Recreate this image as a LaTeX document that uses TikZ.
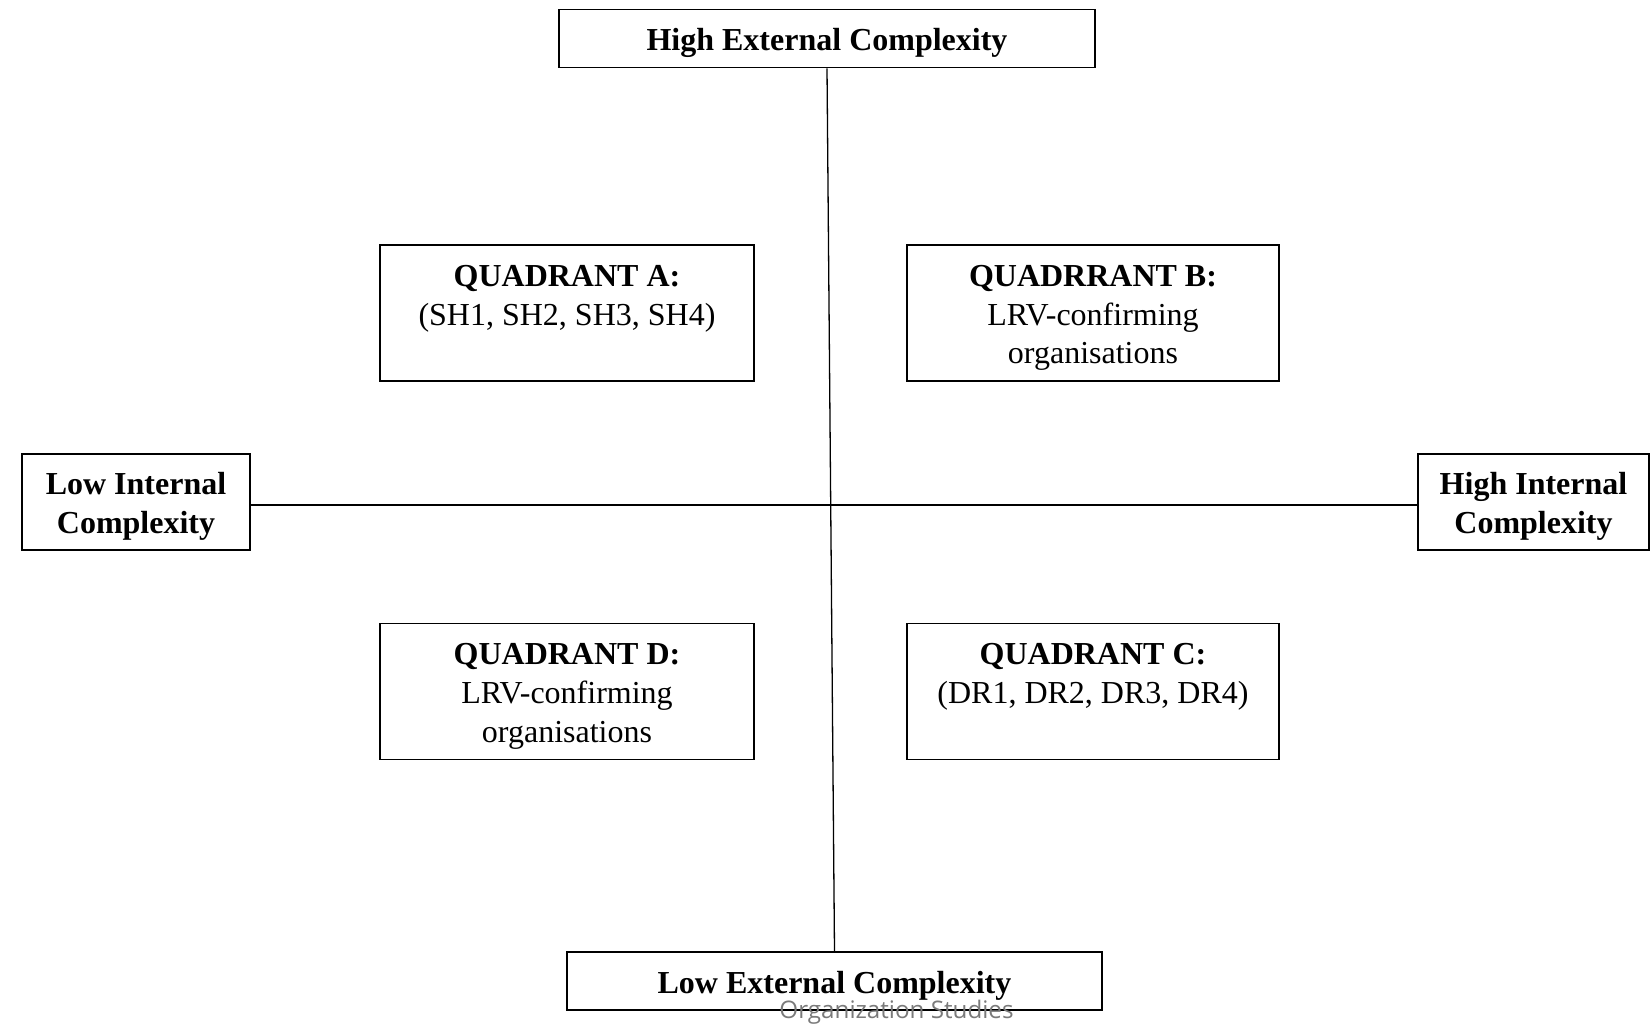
\documentclass[tikz,border=0pt]{standalone}
\usepackage{fontspec}
\setmainfont{Liberation Serif}
\newfontfamily\wmfont{Open Sans}
\newcommand\tstrut{\rule{0pt}{35.8pt}}
\newcommand\bstrut{\rule[-11.6pt]{0pt}{0pt}}
\begin{document}
\begin{tikzpicture}[x=1pt,y=-1pt,
  box/.style={draw=black,line width=1.6pt,inner sep=0pt,align=center,
    font=\fontsize{32}{38.7}\selectfont},
  axis/.style={draw=black,line width=1.3pt}]
\useasboundingbox[fill=white] (0,0) rectangle (1652,1024);
\node[box,minimum width=536pt,minimum height=58pt] (top) at (827,38.5) {\tstrut\textbf{High External Complexity}\bstrut};
\node[box,minimum width=535pt,minimum height=58pt] (bot) at (834.5,981) {\tstrut\textbf{Low External Complexity}\bstrut};
\node[box,minimum width=228pt,minimum height=96pt] (left) at (136,502) {\tstrut\textbf{Low Internal}\\\textbf{Complexity}\bstrut};
\node[box,minimum width=231pt,minimum height=96pt] (right) at (1533.5,502) {\tstrut\textbf{High Internal}\\\textbf{Complexity}\bstrut};
\node[box,minimum width=374pt,minimum height=136pt] (qa) at (567,313) {\tstrut\textbf{QUADRANT A:}\\(SH1, SH2, SH3, SH4)\\\mbox{}\bstrut};
\node[box,minimum width=372pt,minimum height=136pt] (qb) at (1093,313) {\tstrut\textbf{QUADRRANT B:}\\LRV-confirming\\organisations\bstrut};
\node[box,minimum width=374pt,minimum height=136pt] (qd) at (567,691.5) {\tstrut\textbf{QUADRANT D:}\\LRV-confirming\\organisations\bstrut};
\node[box,minimum width=372pt,minimum height=136pt] (qc) at (1093,691.5) {\tstrut\textbf{QUADRANT C:}\\(DR1, DR2, DR3, DR4)\\\mbox{}\bstrut};
\draw[axis] (top.south) -- (bot.north);
\draw[axis] ([yshift=-3pt]left.east) -- ([yshift=-3pt]right.west);
\node[text=black!52,font=\wmfont\fontsize{24.2}{26}\selectfont,inner sep=0pt] (wm) at (896.5,1012) {Organization Studies};
\end{tikzpicture}
\end{document}
